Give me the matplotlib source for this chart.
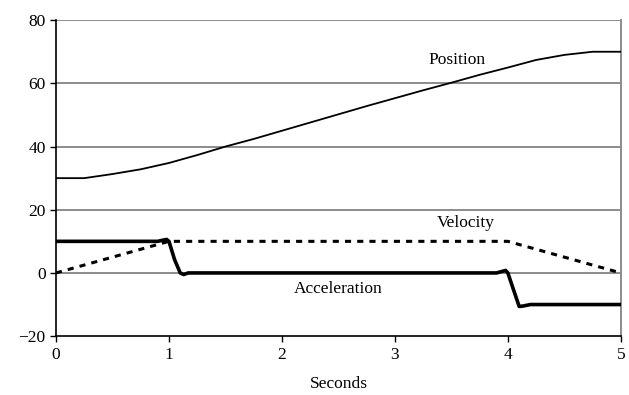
import numpy as np
import matplotlib
matplotlib.use("Agg")
import matplotlib.pyplot as plt

plt.rcParams["font.family"] = ["Liberation Serif", "DejaVu Serif"]

# Posicion (curva suave leida cada 0.25 s)
t_pos = [0, 0.25, 0.5, 0.75, 1.0, 1.25, 1.5, 1.75, 2.0, 2.25, 2.5,
         2.75, 3.0, 3.25, 3.5, 3.75, 4.0, 4.25, 4.5, 4.75, 5.0]
posicion = [30, 30, 31.3, 32.8, 34.8, 37.3, 40.0, 42.4, 45.0, 47.6, 50.2,
            52.8, 55.3, 57.8, 60.2, 62.7, 65.0, 67.4, 69.0, 70.0, 70.0]

# Velocidad
t_vel = [0, 1, 4, 5]
velocidad = [0, 10, 10, 0]

# Aceleracion
t_acc = [0, 0.9, 0.95, 0.98, 1.0, 1.05, 1.1, 1.13, 1.17, 3.9, 3.95, 3.98,
         4.0, 4.05, 4.1, 4.13, 4.2, 5.0]
aceleracion = [10, 10, 10.4, 10.6, 10, 4.2, 0, -0.5, 0, 0, 0.5, 0.8,
               0, -5.3, -10.6, -10.5, -10, -10]

fig = plt.figure(figsize=(6.29, 3.95), dpi=100)
ax = fig.add_axes([0.089, 0.149, 0.898, 0.800])

grid_col = "#8c8c8c"
for y in [0, 20, 40, 60, 80]:
    ax.axhline(y, color=grid_col, lw=1.4, zorder=1)

ax.plot(t_pos, posicion, color="black", lw=1.3, zorder=3)
ax.plot(t_vel, velocidad, color="black", lw=2.2, dashes=(2.0, 2.0), zorder=3)
ax.plot(t_acc, aceleracion, color="black", lw=2.6, zorder=4)

fs = 12.5
ax.text(3.55, 67.5, "Position", fontsize=fs, ha="center", va="center")
ax.text(3.63, 15.8, "Velocity", fontsize=fs, ha="center", va="center")
ax.text(2.5, -5, "Acceleration", fontsize=fs, ha="center", va="center")

ax.set_xlim(0, 5)
ax.set_ylim(-20, 80)
ax.set_xticks([0, 1, 2, 3, 4, 5])
ax.set_yticks([-20, 0, 20, 40, 60, 80])
ax.set_xlabel("Seconds", fontsize=fs, labelpad=10)

for s in ["left", "bottom"]:
    ax.spines[s].set_color("black")
    ax.spines[s].set_linewidth(1.2)
ax.spines["top"].set_visible(False)
ax.spines["right"].set_color(grid_col)
ax.spines["right"].set_linewidth(1.4)
ax.tick_params(axis="both", direction="out", length=4, width=1,
               labelsize=fs, color="black")

fig.savefig("out.png", dpi=100)
